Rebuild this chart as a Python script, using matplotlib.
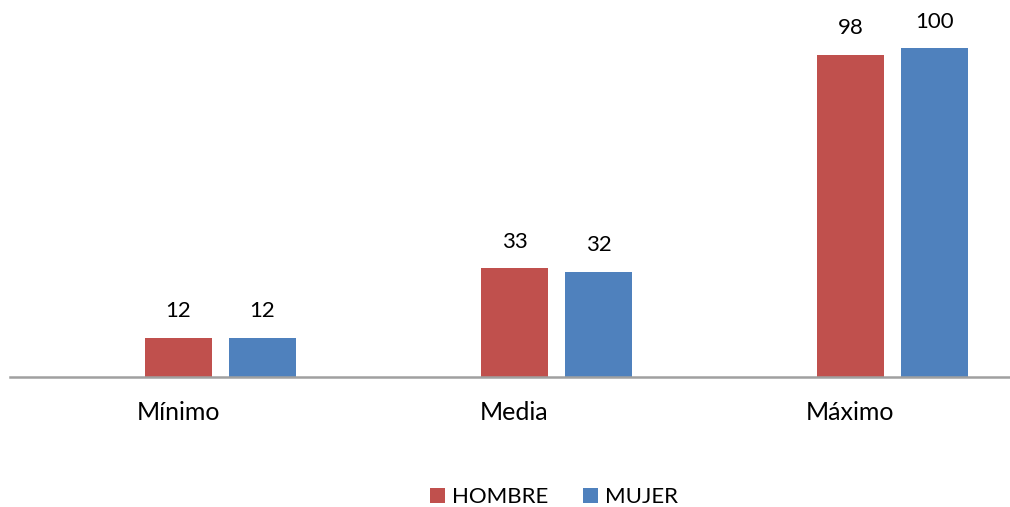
import matplotlib
matplotlib.use("Agg")
import matplotlib.pyplot as plt
import numpy as np
from matplotlib.patches import Patch

categories = ["Mínimo", "Media", "Máximo"]
series_names = ["HOMBRE", "MUJER"]
hombre = [12, 33, 98]
mujer = [12, 32, 100]
colors = ["#C0504D", "#4F81BD"]

plt.rcParams['font.family'] = ['Lato', 'DejaVu Sans']

W, H = 1010, 507
fig = plt.figure(figsize=(W / 100, H / 100), dpi=100)
ax = fig.add_axes([10 / W, (H - 377) / H, 1000 / W, 377 / H])

x = np.arange(len(categories))
bw = 0.2
off = 0.125
for vals, o, c in [(hombre, -off, colors[0]), (mujer, off, colors[1])]:
    bars = ax.bar(x + o, vals, width=bw, color=c, zorder=2)
    for b, v in zip(bars, vals):
        ax.annotate(str(v), (b.get_x() + b.get_width() / 2, v), xytext=(0, 19),
                    textcoords="offset points", ha="center", va="center",
                    fontsize=16, color="#000000")

ax.set_xlim(-0.6265, 2.35)
ax.set_ylim(0, 114.6)
for s in ["top", "right", "left"]:
    ax.spines[s].set_visible(False)
ax.spines["bottom"].set_color("#A0A0A0")
ax.spines["bottom"].set_linewidth(1.8)
ax.set_yticks([])
ax.set_xticks(x - off)
ax.set_xticklabels(categories, fontsize=18)
ax.tick_params(axis="x", length=0, pad=17)

handles = [Patch(facecolor=colors[0], label=series_names[0]),
           Patch(facecolor=colors[1], label=series_names[1])]
fig.legend(handles=handles, loc="center", bbox_to_anchor=(554 / W, 1 - 497 / H),
           ncol=2, frameon=False, fontsize=16, handlelength=0.65, handleheight=0.65,
           handletextpad=0.3, columnspacing=1.6)

fig.savefig("out.png", dpi=100)
